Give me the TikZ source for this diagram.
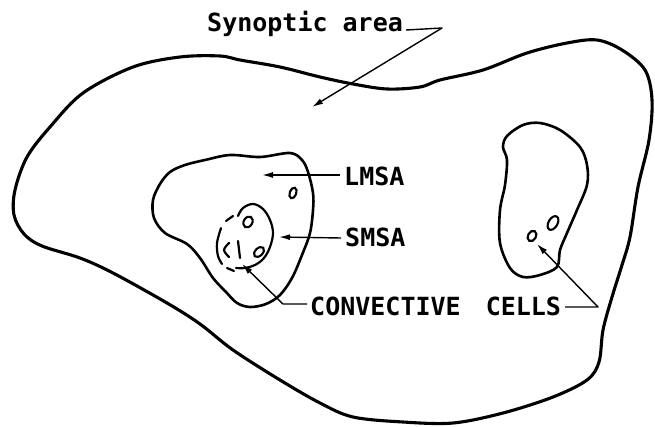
\documentclass[tikz,border=0pt]{standalone}
\usepackage{fontspec}
\newfontfamily\labfont{DejaVu Sans Mono}
\usetikzlibrary{arrows.meta,calc}
\begin{document}
\begin{tikzpicture}[x=1pt,y=-1pt,
  outerline/.style={line width=3.1pt, line join=round, line cap=round},
  midline/.style={line width=2.6pt, line join=round, line cap=round},
  innerline/.style={line width=2.2pt, line join=round, line cap=round},
  cell/.style={line width=2.1pt},
  leader/.style={line width=1.4pt, line join=round, -{Latex[length=11pt,width=6pt]}},
  lab/.style={font=\labfont\bfseries\fontsize{25}{25}\selectfont, inner sep=0pt, anchor=base west}]
\useasboundingbox (0,0) rectangle (655,427);

% synoptic area (outer contour)
\draw[outerline] plot[smooth cycle, tension=0.55] coordinates {
 (133,67) (180,57) (220,56) (240,60) (280,67) (320,77) (353,84) (387,89)
 (420,87) (440,80) (483,70) (527,53) (567,43) (597,40) (622,50) (645,70)
 (652,100) (649,140) (638,187) (630,237) (622,265) (612,297) (603,330)
 (599,362) (587,380) (553,397) (503,413) (453,423) (403,422) (353,417)
 (320,403) (280,380) (233,350) (200,324) (167,303) (113,273) (80,258)
 (42,246) (24,234) (14,215) (15,190) (27,157) (50,127) (83,93)};

% LMSA contour
\draw[midline] plot[smooth cycle, tension=0.55] coordinates {
 (185,165) (205,160) (230,155) (260,157) (290,153) (302,160) (308,172)
 (313,193) (313,210) (310,233) (302,255) (292,278) (280,295) (266,304)
 (250,307) (237,303) (226,292) (213,278) (200,258) (187,244) (165,233)
 (154,218) (153,200) (160,184) (170,172)};

% right meso area
\draw[midline] plot[smooth cycle, tension=0.55] coordinates {
 (523,125) (540,123) (560,130) (580,147) (587,165) (587,185) (577,210)
 (567,233) (560,250) (557,267) (540,275) (523,277) (510,268) (500,243)
 (500,210) (505,185) (507,160) (503,147) (507,136)};

% SMSA contour (open)
\draw[innerline] plot[smooth, tension=0.6] coordinates {
 (238,216) (243,208) (253,204) (263,209) (270,220) (273,233) (270,247)
 (264,258) (255,265) (245,268) (236,268)};
% broken outer arc around SMSA
\draw[innerline] plot[smooth, tension=0.6] coordinates {(233,216) (226,221)};
\draw[innerline] plot[smooth, tension=0.6] coordinates {(221,228) (217,243) (218,256) (222,264)};
\draw[innerline] plot[smooth, tension=0.6] coordinates {(227,268) (234,271)};
% partial cell strokes inside SMSA
\draw[innerline] plot[smooth, tension=0.6] coordinates {(229,243) (224,250) (229,257)};
\draw[innerline] (238,241) -- (240,258);

% convective cells
\draw[cell] (293,193) ellipse [x radius=5.5pt, y radius=3.3pt, rotate=70];
\draw[cell] (248,222) ellipse [x radius=5.8pt, y radius=4.3pt, rotate=60];
\draw[cell] (259,252) ellipse [x radius=6pt, y radius=3.8pt, rotate=45];
\draw[cell] (532,236) ellipse [x radius=5.5pt, y radius=4pt, rotate=60];
\draw[cell] (553,223) ellipse [x radius=7.5pt, y radius=4.5pt, rotate=60];

% labels
\node[lab] (syn) at (207,32) {Synoptic area};
\node[lab] (lmsa) at (344,186) {LMSA};
\node[lab] (smsa) at (345,247) {SMSA};
\node[lab] (conv) at (310,316) {CONVECTIVE \hspace{10pt}CELLS};

% leader coordinates
\coordinate (synA) at ($(syn.base east)+(3,-2)$);
\coordinate (synB) at (442,28);
\coordinate (synT) at (312,107);
\coordinate (lmsaA) at ($(lmsa.base west)+(-4,-11)$);
\coordinate (lmsaT) at (262,175);
\coordinate (smsaA) at ($(smsa.base west)+(-4,-9)$);
\coordinate (smsaT) at (279,237);
\coordinate (convA) at ($(conv.base west)+(-3,-12)$);
\coordinate (convB) at (283,304);
\coordinate (convT) at (242,264);
\coordinate (cellA) at ($(conv.base east)+(4,-9)$);
\coordinate (cellB) at (598,307);
\coordinate (cellT) at (537,244);

\draw[leader] (synA) -- (synB) -- (synT);
\draw[leader] (lmsaA) -- (lmsaT);
\draw[leader] (smsaA) -- (smsaT);
\draw[leader] (convA) -- (convB) -- (convT);
\draw[leader] (cellA) -- (cellB) -- (cellT);
\end{tikzpicture}
\end{document}
